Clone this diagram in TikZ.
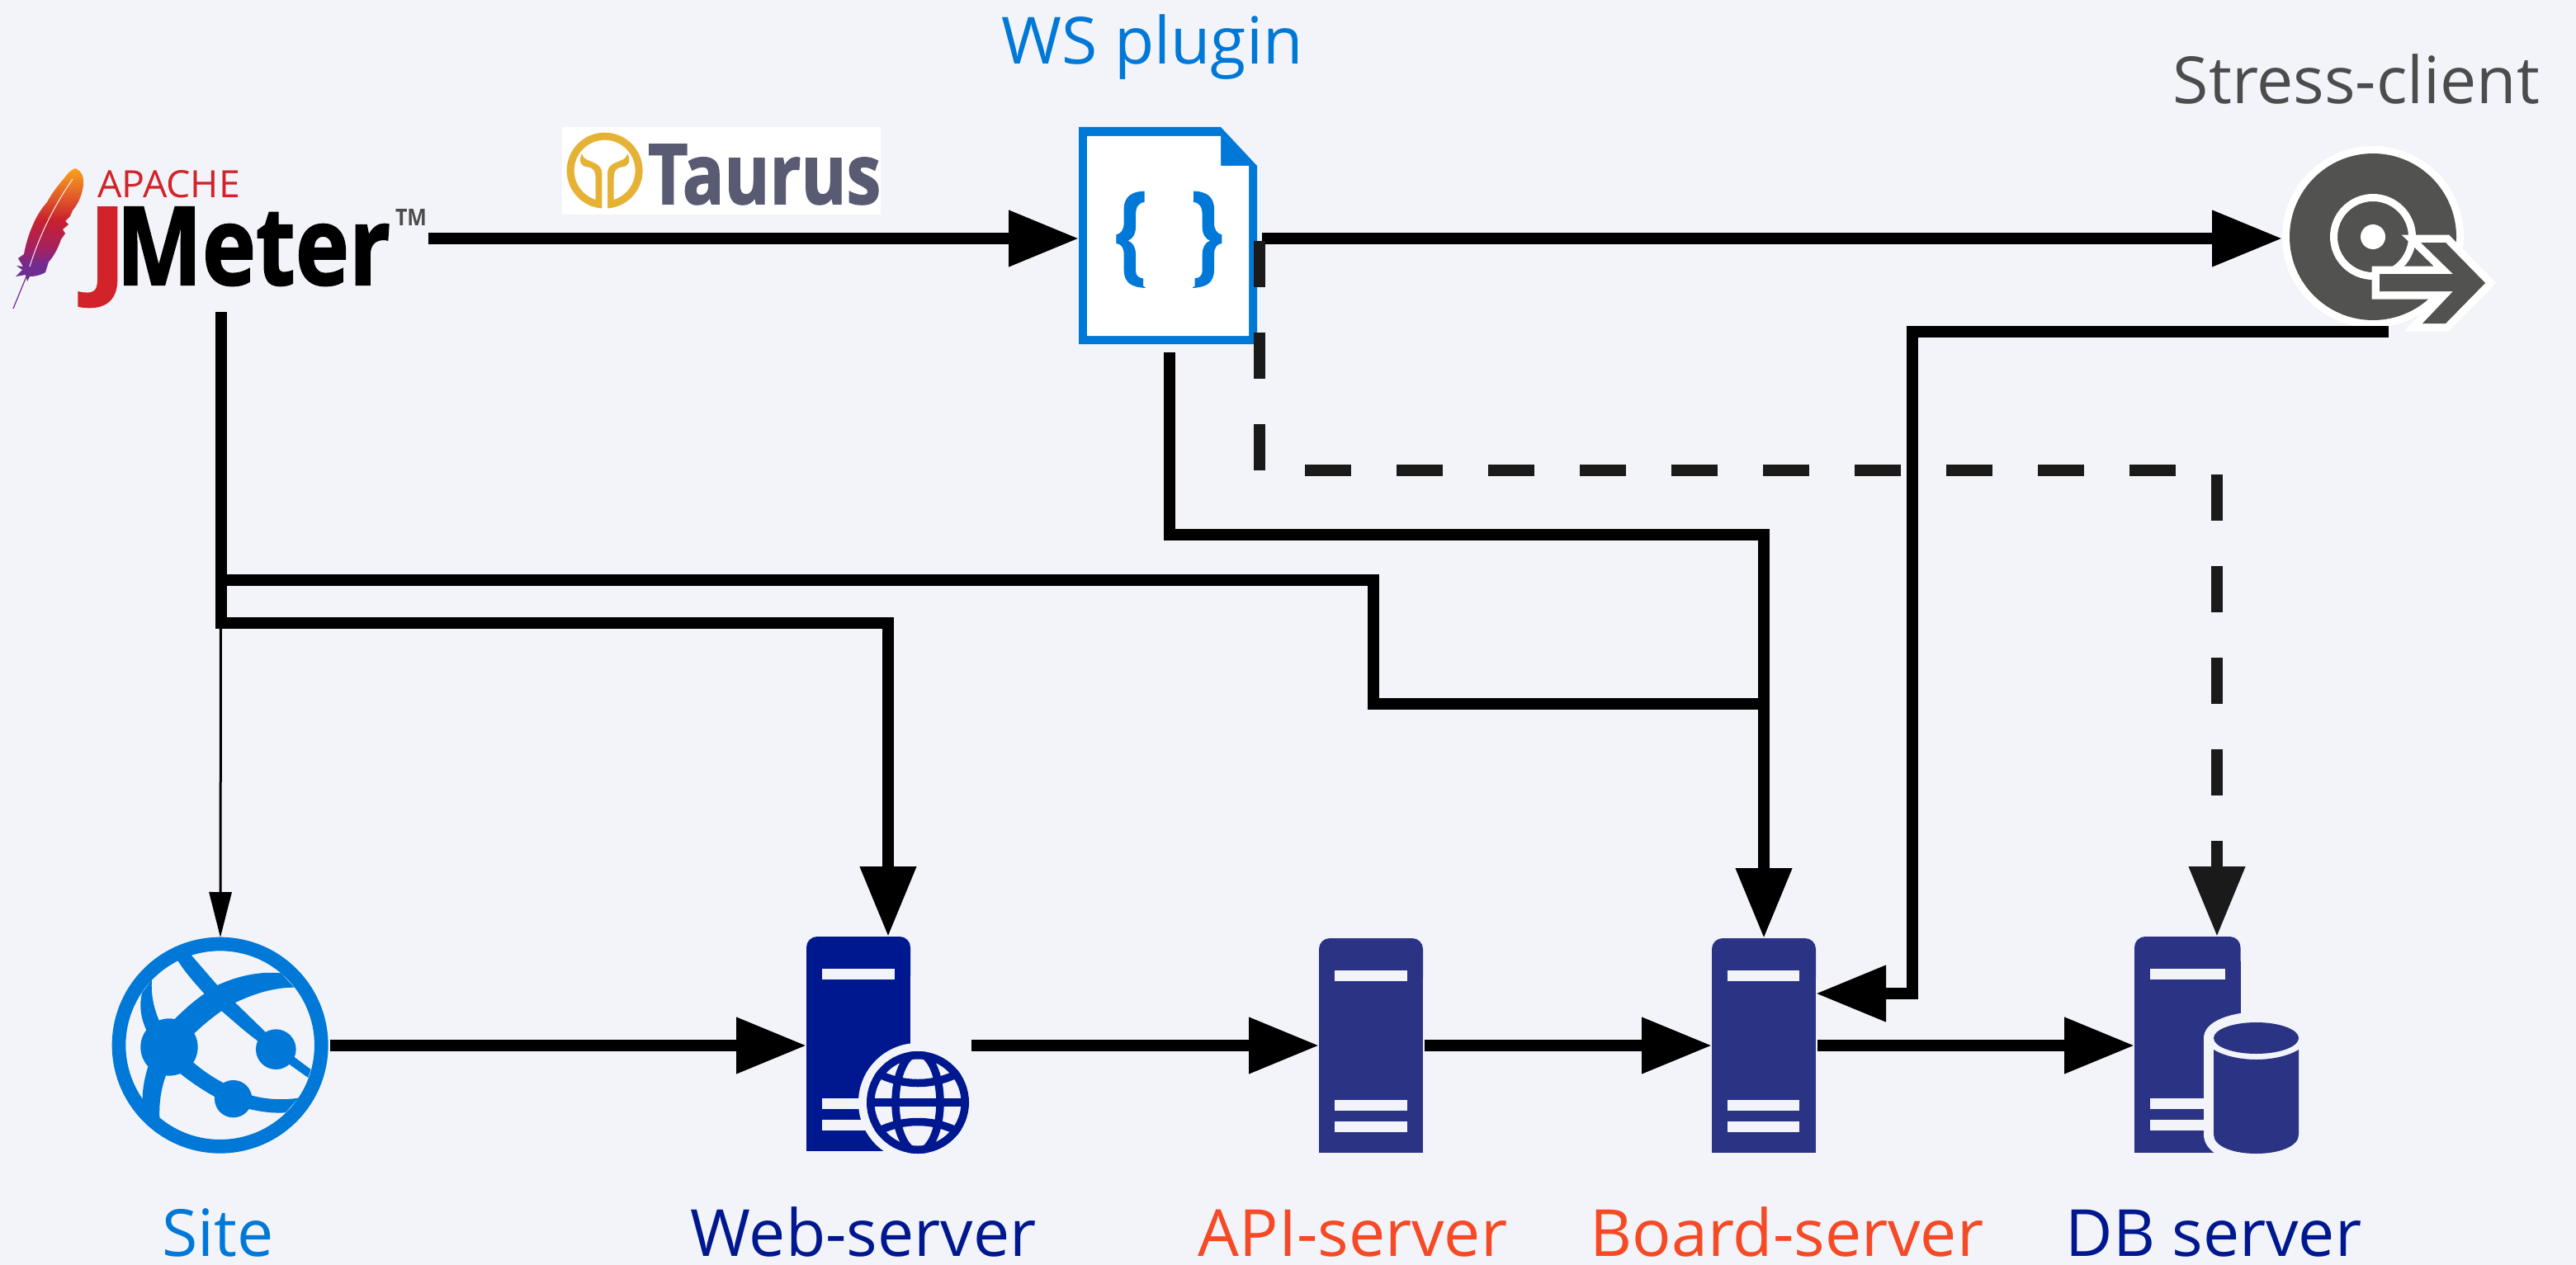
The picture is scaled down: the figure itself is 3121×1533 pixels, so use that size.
\documentclass[tikz,border=0pt]{standalone}
\usepackage{fontspec}
\setmainfont{Open Sans}
\newfontfamily\heavyfont[BoldFeatures={FakeBold=1.6}]{Open Sans}
\usetikzlibrary{arrows.meta,calc}
\definecolor{bgc}{HTML}{F2F4F9}
\definecolor{azure}{HTML}{0078D7}
\definecolor{navy}{HTML}{00188F}
\definecolor{srv}{HTML}{2A3384}
\definecolor{orangered}{HTML}{F54A25}
\definecolor{diskgray}{HTML}{525250}
\definecolor{dashc}{HTML}{1A1A1A}
\definecolor{taurusgold}{HTML}{E5B235}
\definecolor{taurusgray}{HTML}{585B72}
\definecolor{apred}{HTML}{D2232A}
\definecolor{fa}{HTML}{F9A11B}
\definecolor{fb}{HTML}{E0592A}
\definecolor{fc}{HTML}{C8202F}
\definecolor{fd}{HTML}{A6215F}
\definecolor{fe}{HTML}{6F2C91}
\pgfdeclareverticalshading{feathershade}{100bp}{
 color(0bp)=(fe);
 color(25bp)=(fe);
 color(32bp)=(fe);
 color(40bp)=(fd);
 color(52bp)=(fc);
 color(62bp)=(fb);
 color(75bp)=(fa);
 color(100bp)=(fa)}
\tikzset{
 x=1pt,y=-1pt,
 iconbox/.style={inner sep=0pt,outer sep=0pt,draw=none},
 wire/.style={line width=14pt,line join=miter,black},
 flow/.style={wire,-{Triangle[length=85pt,width=65pt]}},
 dashflow/.style={line width=14pt,dashc,dash pattern=on 56pt off 55pt,-{Triangle[length=85pt,width=65pt]}},
 thinflow/.style={line width=3pt,black,-{Triangle[length=55pt,width=27pt]}},
 label/.style={inner sep=0pt,anchor=base,font=\fontsize{78.8pt}{90pt}\selectfont},
 logo/.style={inner sep=0pt,outer sep=0pt,anchor=base west},
}
\newcommand{\serverbody}[7]{% x0 x1 color y0 y1 barx0 barx1
 \fill[#3,rounded corners=13pt] (#1,#4+60) -- (#1,#4) -- (#2,#4) -- (#2,#4+60) -- cycle;
 \fill[#3] (#1,#4+30) rectangle (#2,#5);
 \fill[bgc] (#6,#4+39) rectangle (#7,#4+52);
 \fill[bgc] (#6,#4+196) rectangle (#7,#4+209);
 \fill[bgc] (#6,#4+222) rectangle (#7,#4+235);
}
\newcommand{\bracepath}{(410,305) -- (410,345) .. controls (385,348) and (378,365) .. (378,395) -- (378,435) .. controls (378,462) and (365,480) .. (350,485) .. controls (368,492) and (378,510) .. (378,535) -- (378,595) .. controls (378,612) and (390,622) .. (405,622) -- (405,650) -- (415,657) .. controls (365,655) and (335,640) .. (335,590) -- (335,535) .. controls (335,510) and (325,497) .. (307,495) -- (307,463) .. controls (325,460) and (335,445) .. (335,420) -- (335,370) .. controls (335,325) and (365,305) .. (410,305) -- cycle}
\begin{document}
\begin{tikzpicture}
\useasboundingbox (0,0) rectangle (3121,1533);
\fill[bgc] (0,0) rectangle (3121,1533);

% ---- anchor boxes of the icons
\node[iconbox,minimum width=503pt,minimum height=178pt] (jmeter) at (267.5,289) {};
\node[iconbox,minimum width=216pt,minimum height=263pt] (ws) at (1415,285.5) {};
\node[iconbox,minimum width=258pt,minimum height=226pt] (stress) at (2894,289) {};
\node[iconbox,minimum width=262pt,minimum height=262pt] (site) at (267,1267) {};
\node[iconbox,minimum width=197pt,minimum height=264pt] (web) at (1075.5,1267) {};
\node[iconbox,minimum width=126pt,minimum height=260pt] (api) at (1661,1267) {};
\node[iconbox,minimum width=126pt,minimum height=260pt] (board) at (2137,1267) {};
\node[iconbox,minimum width=199pt,minimum height=264pt] (db) at (2685.5,1267) {};

% ---- JMeter logo
\shade[shading=feathershade] (91,204) .. controls (99,207) and (102,214) .. (101,225) .. controls (99,238) and (94,248) .. (88,255)
 -- (85,262) -- (79,268) -- (83,272) -- (76,278) -- (79,283) -- (74,290) .. controls (70,302) and (65,310) .. (61,315)
 -- (57,319) -- (60,314) -- (55,330) .. controls (48,334) and (42,335) .. (36,335) -- (33,341) -- (31,333) -- (19,335) -- (27,327) -- (20,322) -- (28,323) -- (22,313) -- (29,308)
 .. controls (32,292) and (36,281) .. (41,270) .. controls (46,259) and (51,252) .. (57,245) .. controls (63,234) and (70,225) .. (77,217) .. controls (82,210) and (86,206) .. (91,204) -- cycle;
\draw[line width=1.2pt,fe] (34,330) -- (16,374);
\draw[line width=1pt,white!75!pink] (88,217) .. controls (65,250) and (48,285) .. (36,323);
\node[logo,text=apred] (apachetext) at (118,239) {\resizebox{173pt}{33pt}{APACHE}};
\node[inner sep=0pt,anchor=north west,text=apred] (jletter) at (106,251) {\resizebox*{48pt}{121pt}{\heavyfont\bfseries J}};
\node[logo] (metertext) at (141,345) {\resizebox{332pt}{94pt}{\heavyfont\bfseries Meter}};
\node[logo,text=black!70] (tmtext) at (479,273) {\resizebox{38pt}{20pt}{\bfseries TM}};

% ---- Taurus logo
\fill[white] (681,154) rectangle (1067,260);
\begin{scope}[shift={(670,145)},x=.3333pt,y=-.3333pt]
 \fill[taurusgold,even odd rule] (188,185) circle[radius=138] (188,185) circle[radius=111];
 \fill[white] (178,180) rectangle (198,330);
 \fill[taurusgold] (178,322) -- (178,195) .. controls (178,160) and (140,155) .. (122,145) .. controls (112,140) and (107,132) .. (105,124) .. controls (92,150) and (100,170) .. (125,172) .. controls (145,174) and (155,185) .. (155,215) -- (155,296) -- cycle;
 \fill[taurusgold] (198,322) -- (198,195) .. controls (198,160) and (236,155) .. (254,145) .. controls (264,140) and (269,132) .. (271,124) .. controls (284,150) and (276,170) .. (251,172) .. controls (231,174) and (221,185) .. (221,215) -- (221,296) -- cycle;
\end{scope}
\node[logo,text=taurusgray] (taurustext) at (785,247) {\resizebox{282pt}{72pt}{\heavyfont\bfseries Taurus}};

% ---- WS plugin document
\fill[azure] (1307,154) -- (1479,154) -- (1523,201) -- (1523,417) -- (1307,417) -- cycle;
\fill[white] (1317,165) -- (1479,165) -- (1479,201) -- (1513,201) -- (1513,407) -- (1317,407) -- cycle;
\begin{scope}[shift={(1250,130)},x=.3333pt,y=-.3333pt]
 \fill[azure] \bracepath;
\end{scope}
\begin{scope}[shift={(1582.67,130)},x=-.3333pt,y=-.3333pt]
 \fill[azure] \bracepath;
\end{scope}

% ---- Stress client disk
\fill[white] (2875,287) circle[radius=110];
\fill[diskgray] (2875,287) circle[radius=101];
\draw[white,line width=9pt] (2875,287) circle[radius=47.5];
\fill[white] (2875,287) circle[radius=15];
\draw[white,line width=19pt,fill=diskgray,miter limit=10] (3011,343) -- (2963,294) -- (2933,294) -- (2972,332) -- (2883,332) -- (2883,353) -- (2972,353) -- (2935,392) -- (2963,392) -- cycle;
\fill[diskgray] (3011,343) -- (2963,294) -- (2933,294) -- (2972,332) -- (2883,332) -- (2883,353) -- (2972,353) -- (2935,392) -- (2963,392) -- cycle;

% ---- Site globe
\begin{scope}[shift={(100,1100)},x=.3333pt,y=-.3333pt]
 \fill[azure,even odd rule] (500,500) circle[radius=393] (500,500) circle[radius=343];
 \fill[azure] (315,507) circle[radius=104];
 \fill[azure] (703,515) circle[radius=73];
 \fill[azure] (548,695) circle[radius=68];
 \fill[azure] (345,190) -- (395,172) -- (490,282) -- (665,452) -- (770,543) -- (830,588) -- (820,618) -- (752,570) -- (636,484) .. controls (590,450) and (540,405) .. (505,375) -- (440,310) .. controls (405,270) and (370,232) .. (345,190) -- cycle;
 \fill[azure] (335,405) .. controls (380,360) and (420,325) .. (490,282) .. controls (560,250) and (640,230) .. (722,238) -- (770,290) .. controls (690,290) and (620,315) .. (555,345) .. controls (500,375) and (450,415) .. (405,458) -- cycle;
 \fill[azure] (252,262) .. controls (248,320) and (260,365) .. (278,410) -- (232,445) .. controls (212,400) and (205,360) .. (216,310) -- cycle;
 \fill[azure] (238,578) .. controls (225,620) and (218,660) .. (218,695) -- (225,750) -- (280,765) .. controls (278,710) and (285,660) .. (303,610) -- cycle;
 \fill[azure] (355,603) .. controls (395,635) and (440,665) .. (482,688) -- (512,637) .. controls (470,615) and (435,590) .. (403,563) -- cycle;
 \fill[azure] (612,682) .. controls (670,698) and (730,700) .. (785,692) -- (738,745) .. controls (690,748) and (650,742) .. (605,732) -- cycle;
\end{scope}

% ---- Web server
\serverbody{977}{1103}{navy}{1135}{1395}{996}{1084}
\fill[bgc] (1112,1336) circle[radius=72];
\fill[bgc] (1040,1396) rectangle (1110,1400);
\begin{scope}
 \clip (1112,1336) circle[radius=62];
 \draw[navy,line width=10pt] (1040,1336) -- (1185,1336);
 \draw[navy,line width=9.5pt] (1112,1336) ellipse[x radius=27,y radius=60];
 \draw[navy,line width=9.5pt] (1055,1296) .. controls (1090,1318) and (1134,1318) .. (1169,1296);
 \draw[navy,line width=9.5pt] (1055,1376) .. controls (1090,1354) and (1134,1354) .. (1169,1376);
\end{scope}
\draw[navy,line width=9.5pt] (1112,1336) circle[radius=57.25];

% ---- API server
\serverbody{1598}{1724}{srv}{1137}{1397}{1617}{1705}
% ---- Board server
\serverbody{2074}{2200}{srv}{1137}{1397}{2092.5}{2180}
% ---- DB server
\serverbody{2586}{2714.5}{srv}{1135}{1397}{2605}{2696}
\fill[bgc] (2670,1258) .. controls (2670,1240) and (2695,1228) .. (2733.5,1226) .. controls (2772,1228) and (2797,1240) .. (2797,1258) -- (2797,1375) .. controls (2797,1395) and (2772,1410) .. (2733.5,1410) .. controls (2695,1410) and (2670,1395) .. (2670,1375) -- cycle;
\fill[srv] (2733.5,1258) ellipse[x radius=51.5,y radius=19];
\fill[srv] (2682,1272) .. controls (2695,1280) and (2715,1284) .. (2733.5,1284) .. controls (2752,1284) and (2772,1280) .. (2785,1272) -- (2785,1375) .. controls (2785,1389) and (2762,1398) .. (2733.5,1398) .. controls (2705,1398) and (2682,1389) .. (2682,1375) -- cycle;

% ---- named bends
\coordinate (trunk) at (267,703);
\coordinate (jw) at (1076,755);
\coordinate (ja) at (1664,703);
\coordinate (jb) at (1664,853);
\coordinate (wsa) at (1417,427);
\coordinate (wsb) at (1417,648);
\coordinate (sa) at (2317,402);
\coordinate (da) at (1526,292);
\coordinate (db1) at (1526,570);
\coordinate (db2) at (2686,570);

% ---- connectors
\draw[flow] (jmeter.east) -- (jmeter.east -| ws.west);
\draw[flow,shorten <=6pt] (jmeter.east -| ws.east) -- (stress.west);
\draw[dashflow] (da) -- (db1) -- (db2) -- (db2 |- db.north);
\draw[flow] (jmeter.south) -- (jmeter.south |- jw) -- (jw) -- (jw |- web.north);
\draw[wire] (trunk) -- (ja) -- (jb) -- (jb -| board.north);
\draw[flow] (wsa) -- (wsb) -- (wsb -| board.north) -- (board.north);
\draw[flow] (stress.south) -- (sa) -- (sa |- 0,1204) -- (board.east |- 0,1204);
\draw[thinflow] (jmeter.south |- jw) -- (site.north);
\draw[flow,shorten <=2pt] (site.east) -- (web.west);
\draw[flow,shorten <=3pt] (web.east) -- (api.west);
\draw[flow,shorten <=2pt] (api.east) -- (board.west);
\draw[flow,shorten <=2pt] (board.east) -- (db.west);

% ---- labels
\node[label,text=azure] (lws) at (1396,78) {WS plugin};
\node[label,text=black!70] (lstress) at (2855,126) {Stress-client};
\node[label,text=azure] (lsite) at (264,1522) {Site};
\node[label,text=navy] (lweb) at (1046,1522) {Web-server};
\node[label,text=orangered] (lapi) at (1639,1522) {API-server};
\node[label,text=orangered] (lboard) at (2165,1522) {Board-server};
\node[label,text=navy] (ldb) at (2682,1522) {DB server};
\end{tikzpicture}
\end{document}
